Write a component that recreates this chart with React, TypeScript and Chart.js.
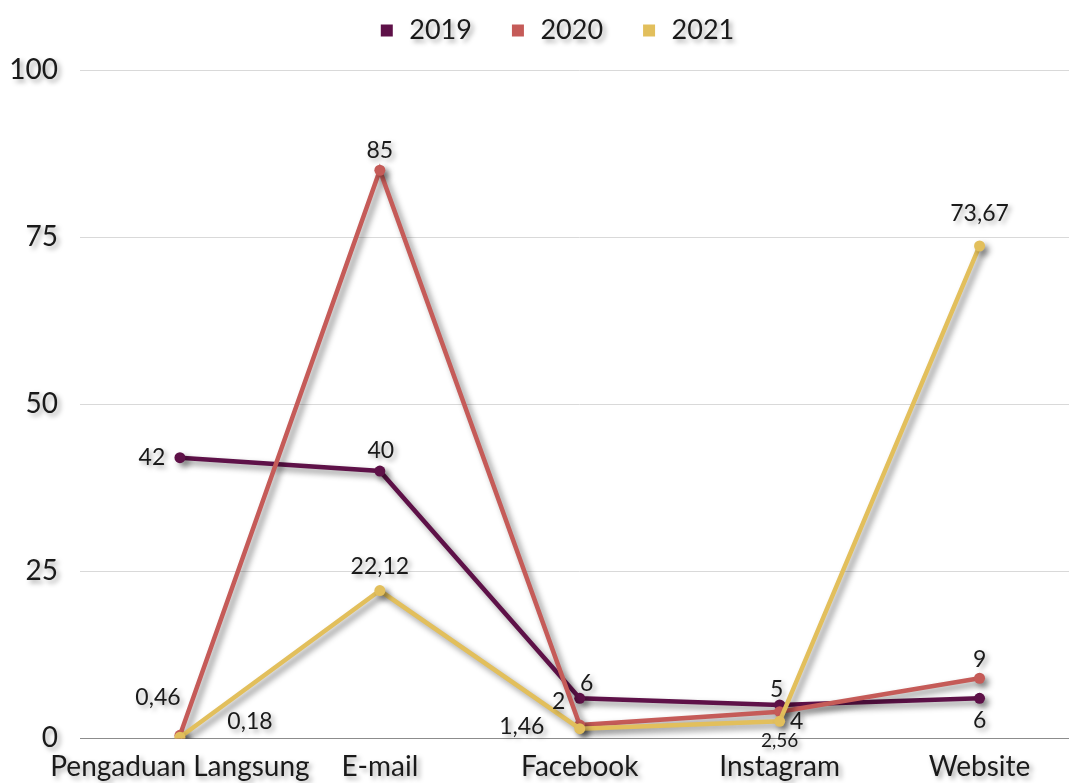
import React, { useEffect, useRef } from "react";
import { Chart, registerables } from "chart.js";

Chart.register(...registerables);

const categories = ["Pengaduan Langsung", "E-mail", "Facebook", "Instagram", "Website"];
const seriesNames = ["2019", "2020", "2021"];
const values2019 = [42, 40, 6, 5, 6];
const values2020 = [0.46, 85, 2, 4, 9];
const values2021 = [0.18, 22.12, 1.46, 2.56, 73.67];
const yTicks = [0, 25, 50, 75, 100];

const colors = ["#5e1148", "#c55b58", "#e2bf5c"];
// label offsets (dx, dy) relative to each point
const labelOffsets = [
  [[-28, 0], [1, -20], [7, -15], [-3, -15], [0, 22]],
  [[-22, -38], [0, -20], [-21, -23], [17, 10], [0, -19]],
  [[70, -16], [0, -24], [-58, -2], [0, 20], [0, -32]],
];

const FONT = "Lato, 'Open Sans', sans-serif";

const shadowPlugin = {
  id: "shadowText",
  afterInit(chart: any) {
    const lg = chart.legend;
    if (lg) {
      const f = lg.fit.bind(lg);
      lg.fit = function () {
        f();
        this.height += 16;
      };
    }
  },
  afterLayout(chart: any) {
    const lg = chart.legend;
    if (lg) {
      lg.left += 16;
      lg.right += 16;
    }
  },
  beforeInit(chart: any) {
    const ctx = chart.ctx;
    const orig = ctx.fillText.bind(ctx);
    ctx.fillText = (t: string, x: number, y: number, mw?: number) => {
      ctx.save();
      ctx.shadowColor = "rgba(0,0,0,0.35)";
      ctx.shadowBlur = 5;
      ctx.shadowOffsetX = 3;
      ctx.shadowOffsetY = 3;
      if (mw === undefined) orig(t, x, y);
      else orig(t, x, y, mw);
      ctx.restore();
    };
  },
  beforeDatasetsDraw(chart: any) {
    const ctx = chart.ctx;
    ctx.save();
    ctx.shadowColor = "rgba(0,0,0,0.45)";
    ctx.shadowBlur = 6;
    ctx.shadowOffsetX = 4;
    ctx.shadowOffsetY = 4;
  },
  afterDatasetsDraw(chart: any) {
    const ctx = chart.ctx;
    ctx.restore();
    ctx.save();
    ctx.fillStyle = "#1a1a1a";
    ctx.textAlign = "center";
    ctx.textBaseline = "middle";
    chart.data.datasets.forEach((ds: any, di: number) => {
      const meta = chart.getDatasetMeta(di);
      meta.data.forEach((pt: any, i: number) => {
        const v = ds.data[i];
        const [dx, dy] = labelOffsets[di][i];
        ctx.font = di === 2 && i === 3 ? `19px ${FONT}` : `23px ${FONT}`;
        ctx.fillText(String(v).replace(".", ","), pt.x + dx, pt.y + dy);
      });
    });
    ctx.restore();
  },
};

export default function App() {
  const ref = useRef<HTMLCanvasElement>(null);
  useEffect(() => {
    if (!ref.current) return;
    const all = [values2019, values2020, values2021];
    const chart = new Chart(ref.current, {
      type: "line",
      data: {
        labels: categories,
        datasets: all.map((vals, i) => ({
          label: seriesNames[i],
          data: vals,
          borderColor: colors[i],
          backgroundColor: colors[i],
          pointBackgroundColor: colors[i],
          pointBorderColor: colors[i],
          pointBorderWidth: 0,
          borderWidth: 4.5,
          pointRadius: 5.5,
          pointStyle: "circle",
          tension: 0,
          order: 3 - i,
        })),
      },
      options: {
        responsive: false,
        animation: false,
        layout: { padding: { top: -20, left: 0, right: 5, bottom: -13 } },
        plugins: {
          legend: {
            position: "top",
            labels: {
              usePointStyle: true,
              pointStyle: "rect",
              boxWidth: 18,
              boxHeight: 12,
              padding: 37,
              color: "#1a1a1a",
              font: { size: 27, family: FONT },
              sort: (a: any, b: any) => a.datasetIndex - b.datasetIndex,
            },
          },
          tooltip: { enabled: false },
        },
        scales: {
          x: {
            offset: true,
            grid: { display: false, drawTicks: false },
            border: { display: true, color: "#8c8c8c", width: 1 },
            ticks: {
              color: "#1a1a1a",
              font: { size: 28, family: FONT },
              padding: 12,
              maxRotation: 0,
              autoSkip: false,
            },
          },
          y: {
            min: 0,
            max: 100,
            afterBuildTicks: (s: any) => {
              s.ticks = yTicks.map((v) => ({ value: v }));
            },
            afterFit: (s: any) => {
              s.width = 80;
            },
            grid: { color: "#d9d9d9", drawTicks: false, lineWidth: 1 },
            border: { display: false },
            ticks: {
              color: "#1a1a1a",
              font: { size: 28, family: FONT },
              padding: 22,
            },
          },
        },
      },
      plugins: [shadowPlugin],
    });
    return () => chart.destroy();
  }, []);
  return (
    <div style={{ position: "fixed", left: 0, top: 0, width: 1069, height: 783, overflow: "hidden", background: "#fff" }}>
      <canvas ref={ref} width={1085} height={783} style={{ width: 1085, height: 783, display: "block" }} />
    </div>
  );
}
